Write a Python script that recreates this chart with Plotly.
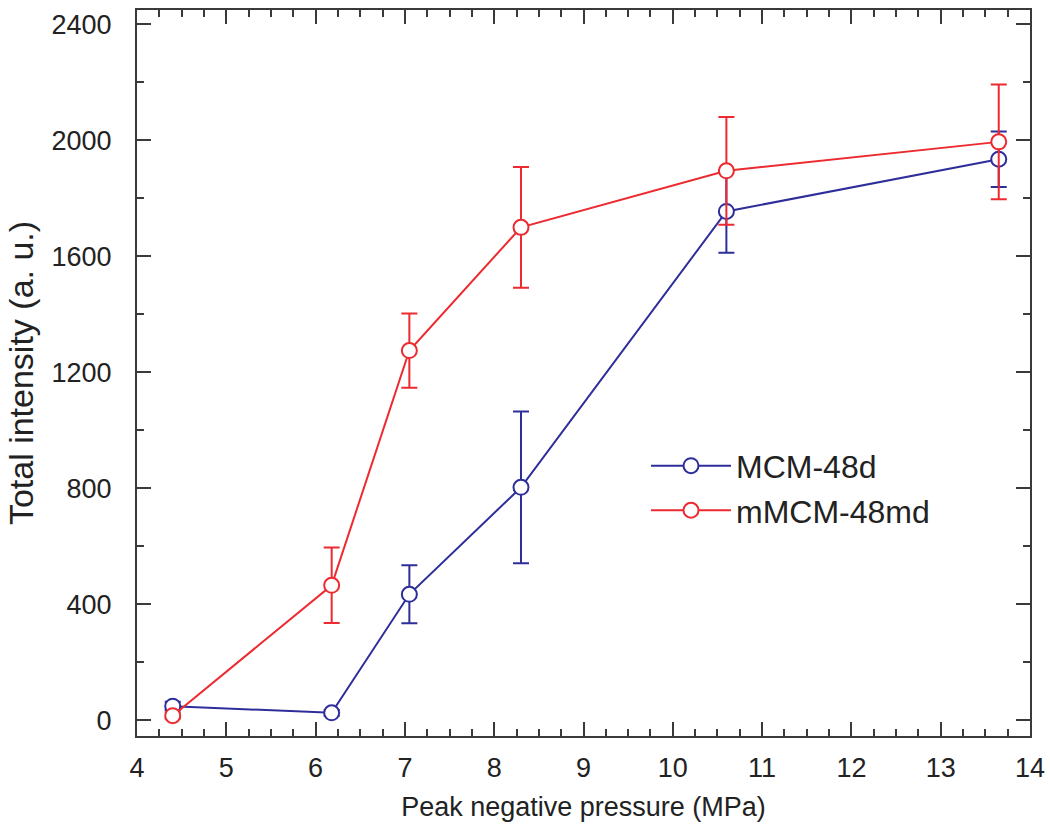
import plotly.graph_objects as go

pressure = [4.4, 6.18, 7.05, 8.3, 10.6, 13.65]
mcm_vals = [48, 25, 434, 803, 1755, 1935]
mcm_err = [15, 10, 100, 262, 143, 96]
mmcm_vals = [15, 465, 1275, 1700, 1895, 1995]
mmcm_err = [10, 130, 128, 208, 186, 198]

x_ticks = [4, 5, 6, 7, 8, 9, 10, 11, 12, 13, 14]
y_ticks = [0, 400, 800, 1200, 1600, 2000, 2400]

BLUE = "#2e2e9a"
RED = "#ec2a30"
AX = "#3a3a3a"
FONT = "Liberation Sans, Arial, sans-serif"

fig = go.Figure()
for name, vals, err, col in [("MCM-48d", mcm_vals, mcm_err, BLUE),
                             ("mMCM-48md", mmcm_vals, mmcm_err, RED)]:
    fig.add_trace(go.Scatter(
        x=pressure, y=vals, name=name, mode="lines+markers",
        line=dict(color=col, width=2),
        marker=dict(symbol="circle", size=15, color="white",
                    line=dict(color=col, width=2)),
        error_y=dict(type="data", array=err, visible=True, color=col,
                     thickness=2, width=8),
    ))

axis_common = dict(
    showline=True, linecolor=AX, linewidth=2, mirror="allticks",
    ticks="inside", ticklen=14, tickwidth=2, tickcolor=AX,
    showgrid=False, zeroline=False, automargin=False,
    tickfont=dict(family=FONT, size=27, color="#222"),
)
fig.update_xaxes(**axis_common, range=[4, 14], tickvals=x_ticks,
                 ticklabelstandoff=7,
                 minor=dict(ticks="inside", ticklen=7, tickwidth=2,
                            tickcolor=AX, dtick=0.25, showgrid=False),
                 title=dict(text="Peak negative pressure (MPa)",
                            font=dict(family=FONT, size=27, color="#222"),
                            standoff=15))
fig.update_yaxes(**axis_common, range=[-55, 2450], tickvals=y_ticks,
                 ticklabelstandoff=18,
                 minor=dict(ticks="inside", ticklen=7, tickwidth=2,
                            tickcolor=AX, dtick=200, tick0=0, showgrid=False),
                 title=dict(text="Total intensity (a. u.)",
                            font=dict(family=FONT, size=34, color="#222"),
                            standoff=8))

fig.update_layout(
    width=1050, height=837,
    margin=dict(l=137, r=20, t=10, b=101),
    plot_bgcolor="white", paper_bgcolor="white",
    legend=dict(x=0.57, y=0.41, xanchor="left", yanchor="top",
                font=dict(family=FONT, size=32, color="#222"),
                bgcolor="rgba(0,0,0,0)", itemwidth=80),
    showlegend=True,
)
fig.write_html("out.html", config={"displayModeBar": False},
               post_script="document.body.style.margin='0';document.body.style.overflow='hidden';")
